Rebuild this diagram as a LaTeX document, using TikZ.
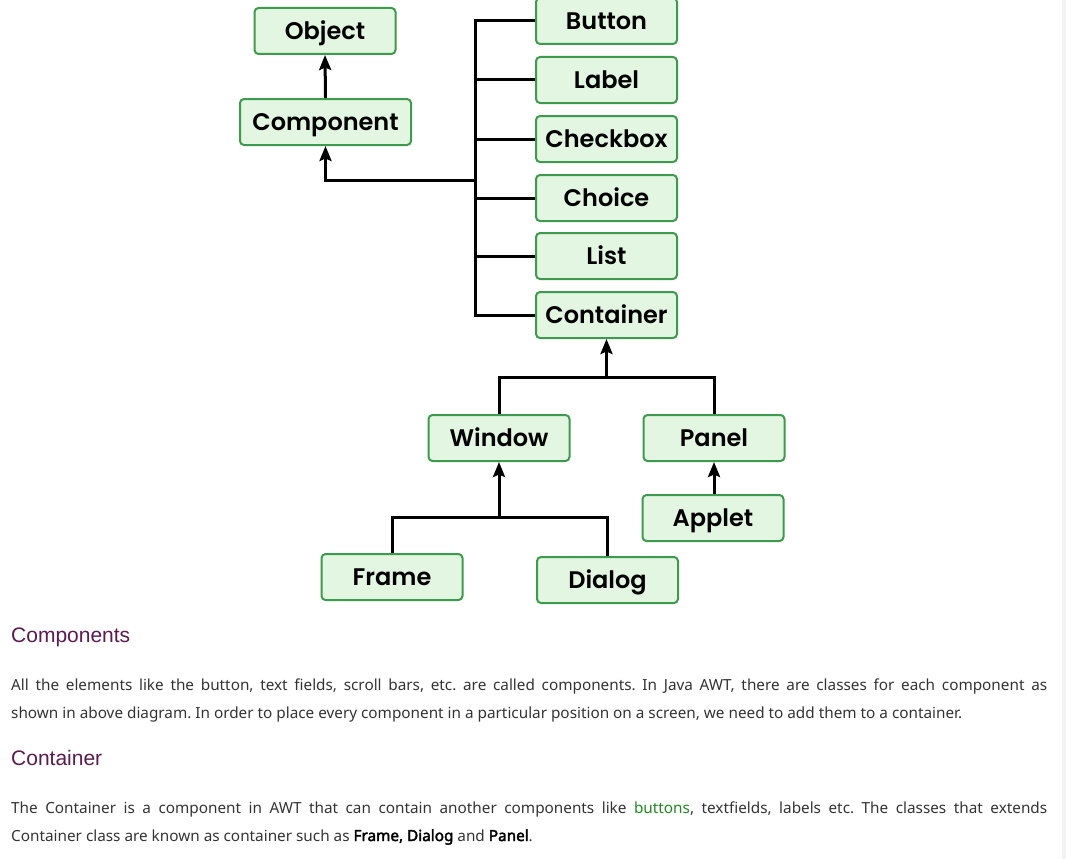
\documentclass[tikz,border=0pt]{standalone}
\usepackage{fontspec}
\setmainfont{Noto Sans}
\newfontfamily\boxfont{Poppins SemiBold}
\newfontfamily\headfont{Liberation Sans}
\newfontfamily\bodyfont{Noto Sans}[AutoFakeBold=2.5]
\usetikzlibrary{arrows.meta}
\definecolor{boxfill}{HTML}{E2F6E2}
\definecolor{boxline}{HTML}{3E9A4C}
\definecolor{headcol}{HTML}{5C1A4E}
\definecolor{bodycol}{HTML}{333333}
\definecolor{linkcol}{HTML}{1E8A1E}
\definecolor{stripcol}{HTML}{F2F2F2}
\tikzset{
  cls/.style={draw=boxline, fill=boxfill, line width=2pt, rounded corners=4pt,
    minimum width=141pt, minimum height=46pt, inner sep=0pt,
    text height=17pt, text depth=0pt,
    font=\boxfont\fontsize{24}{28}\selectfont},
  conn/.style={line width=3pt},
  inh/.style={conn, -{Stealth[length=15pt,width=12pt,inset=2.5pt]}},
  heading/.style={anchor=base west, inner sep=0pt, text=headcol,
    font=\headfont\fontsize{21}{25}\selectfont},
  body/.style={anchor=base west, inner sep=0pt, text=bodycol,
    font=\bodyfont\fontsize{15.3}{18}\selectfont\frenchspacing}
}
\begin{document}
\begin{tikzpicture}[x=1pt,y=-1pt]
\useasboundingbox (0,0) rectangle (1066,859);
\fill[stripcol] (1062,0) rectangle (1066,859);
% class boxes
\node[cls] (object) at (325,31) {Object};
\node[cls, minimum width=171pt] (component) at (325.5,122) {Component};
\node[cls] (button) at (606.5,21) {Button};
\node[cls] (label) at (606.5,80) {Label};
\node[cls] (checkbox) at (606.5,139) {Checkbox};
\node[cls] (choice) at (606.5,198) {Choice};
\node[cls] (list) at (606.5,256) {List};
\node[cls] (container) at (606.5,315) {Container};
\node[cls] (window) at (499,438) {Window};
\node[cls] (panel) at (714,438) {Panel};
\node[cls] (applet) at (713,518) {Applet};
\node[cls] (frame) at (392,577) {Frame};
\node[cls] (dialog) at (607.5,580) {Dialog};
% connector joints
\coordinate (busx) at (475,0);
\coordinate (busmid) at (475,180);
\coordinate (cjoin) at (606.5,377);
\coordinate (wjoin) at (499,517);
% connectors
\draw[inh] (component.north) -- (object.south);
\draw[conn] (button.west) -- (button.west -| busx) -- (container.west -| busx) -- (container.west);
\draw[conn] (label.west) -- (label.west -| busx);
\draw[conn] (checkbox.west) -- (checkbox.west -| busx);
\draw[conn] (choice.west) -- (choice.west -| busx);
\draw[conn] (list.west) -- (list.west -| busx);
\draw[inh] (busmid) -| (component.south);
\draw[inh] (cjoin) -- (container.south);
\draw[conn] (window.north) |- (cjoin) -| (panel.north);
\draw[inh] (wjoin) -- (window.south);
\draw[conn] (frame.north) |- (wjoin) -| (dialog.north);
\draw[inh] (applet.north -| panel.south) -- (panel.south);
% text
\node[heading] (h1) at (11,642) {Components};
\node[body] (p1a) at (11,690) {\makebox[1036pt][s]{All the elements like the button, text fields, scroll bars, etc. are called components. In Java AWT, there are classes for each component as}};
\node[body] (p1b) at (11,718) {shown in above diagram. In order to place every component in a particular position on a screen, we need to add them to a container.};
\node[heading] (h2) at (11,765) {Container};
\node[body] (p2a) at (11,813) {\makebox[1036pt][s]{The Container is a component in AWT that can contain another components like \textcolor{linkcol}{buttons}, textfields, labels etc. The classes that extends}};
\node[body] (p2b) at (11,841) {Container class are known as container such as \textbf{\color{black}Frame, Dialog} and \textbf{\color{black}Panel}.};
\end{tikzpicture}
\end{document}
